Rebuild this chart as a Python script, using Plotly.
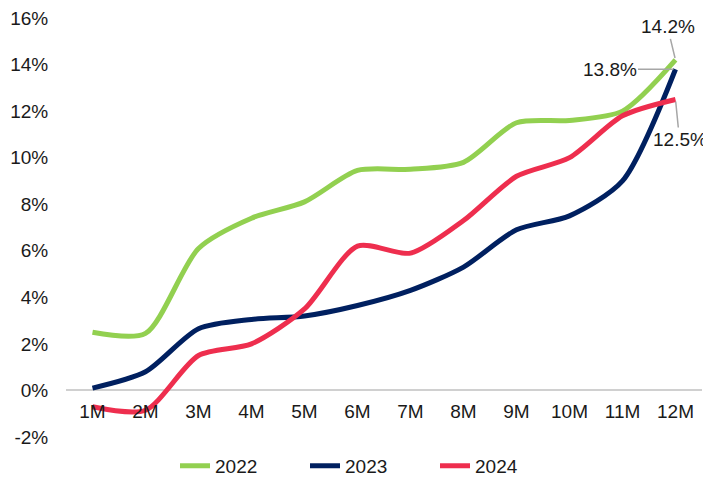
import plotly.graph_objects as go

months = ["1M", "2M", "3M", "4M", "5M", "6M", "7M", "8M", "9M", "10M", "11M", "12M"]
y2022 = [2.5, 2.45, 6.1, 7.4, 8.1, 9.45, 9.5, 9.8, 11.5, 11.6, 12.0, 14.2]
y2023 = [0.1, 0.8, 2.65, 3.05, 3.2, 3.65, 4.3, 5.3, 6.9, 7.5, 9.0, 13.8]
y2024 = [-0.7, -0.85, 1.5, 2.0, 3.5, 6.2, 5.9, 7.3, 9.2, 10.0, 11.8, 12.5]
series_names = ["2022", "2023", "2024"]
colors = ["#92D050", "#002060", "#EE2E4E"]
ytick_vals = [-2, 0, 2, 4, 6, 8, 10, 12, 14, 16]
ytick_text = [f"{v}%" for v in ytick_vals]

FS = 19

fig = go.Figure()
for name, ys, c in zip(series_names, [y2022, y2023, y2024], colors):
    fig.add_trace(go.Scatter(
        x=months, y=ys, name=name, mode="lines",
        line=dict(color=c, width=5, shape="spline", smoothing=0.75),
        hoverinfo="skip",
    ))

labels = [
    (months[-1], y2022[-1], -8, -33),
    (months[-1], y2023[-1], -66, 0),
    (months[-1], y2024[-1], 4, 40),
]
for x, y, ax, ay in labels:
    fig.add_annotation(
        x=x, y=y, text=f"{y:.1f}%", showarrow=True, arrowhead=0,
        arrowwidth=1.5, arrowcolor="#A6A6A6", ax=ax, ay=ay,
        font=dict(size=FS, color="#1a1a1a"), standoff=2,
    )

fig.update_layout(
    width=711, height=481,
    margin=dict(l=58, r=17, t=10, b=52, autoexpand=False),
    paper_bgcolor="white", plot_bgcolor="white",
    font=dict(family="Liberation Sans, Arial, sans-serif", size=FS, color="#1a1a1a"),
    showlegend=True,
    legend=dict(orientation="h", x=0.478, xanchor="center", yref="container",
                y=0.048, yanchor="middle", font=dict(size=FS), entrywidth=85),
    xaxis=dict(
        type="category", range=[-0.5, 11.5], showgrid=False, showline=False,
        zeroline=False, anchor="free", position=2 / 18, ticks="outside",
        ticklen=4, tickcolor="rgba(0,0,0,0)", ticklabeloverflow="allow",
        tickfont=dict(size=FS), automargin=False,
    ),
    yaxis=dict(
        range=[-2, 16], tickvals=ytick_vals, ticktext=ytick_text,
        showgrid=False, showline=False, zeroline=True, zerolinecolor="#D0D0D0",
        zerolinewidth=1.5, ticks="outside", ticklen=13, tickcolor="rgba(0,0,0,0)",
        ticklabeloverflow="allow", tickfont=dict(size=FS), automargin=False,
    ),
)

fig.write_html("out.html")
